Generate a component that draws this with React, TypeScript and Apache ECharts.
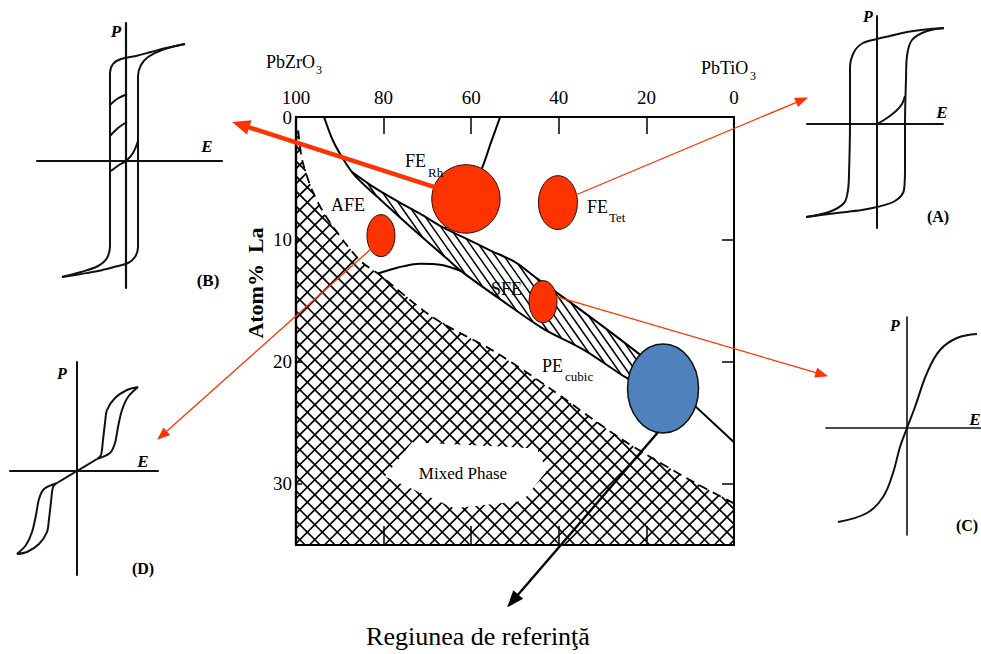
import React, { useEffect, useRef } from "react";
import * as echarts from "echarts";

// ---------------- Phase diagram data (x: % PbZrO3, y: atom % La) ----------------
const zrTickLabels = [100, 80, 60, 40, 20, 0];
const laTickLabels = [0, 10, 20, 30];
const laMax = 35;

// upper boundary of the mixed-phase (cross-hatched) field, dashed in the figure
const mixedPhaseEdge: [number, number][] = [
  [99.5, 1.1], [98.6, 3.5], [96.3, 6.0], [93.4, 8.0], [88.8, 10.3], [84.9, 11.9],
  [81.3, 12.8], [68.7, 16.4], [54.6, 19.2], [42.0, 22.2], [26.3, 26.2], [10.5, 29.6], [0, 31.6],
];
// AFE / FE boundary, continuing as the lower edge of the SFE band
const afeFeBoundary: [number, number][] = [
  [93.6, 0], [91.6, 1.9], [89.3, 3.4], [86.8, 4.7], [84.0, 5.7], [80.6, 6.8], [73.5, 9.1],
  [65.5, 11.6], [62.3, 12.6], [53.0, 15.0], [43.6, 17.3], [34.0, 19.1], [24.7, 21.3], [15.8, 23.1],
];
// upper edge of the SFE band and its continuation to the PbTiO3 side
const sfeUpperEdge: [number, number][] = [
  [87.2, 4.5], [82.0, 5.8], [76.3, 7.0], [71.7, 7.9], [67.1, 8.9], [61.4, 9.9], [55.7, 10.9],
  [49.8, 11.9], [45.0, 13.2], [37.2, 15.2], [26.3, 18.1], [19.2, 20.1], [12.3, 22.5],
];
const cubicBoundaryTail: [number, number][] = [[12.3, 22.5], [0, 26.6]];
// FE rhombohedral / tetragonal boundary
const mpbLine: [number, number][] = [[53.4, 0], [55.5, 2.1], [57.8, 4.4], [63.7, 8.4], [66.2, 9.1]];
// AFE / PE boundary
const afePeCurve: [number, number][] = [[81.3, 12.8], [76.7, 12.3], [71.7, 12.0], [66.7, 12.1], [62.3, 12.6]];
// clear area behind the "Mixed Phase" label
const mixedLabelClearing: [number, number][] = [
  [73.5, 26.6], [45.0, 27.1], [42.7, 28.9], [48.2, 31.4], [63.9, 32.0], [79.7, 29.4],
];

// marked compositions: [Zr, La, half-width Zr, half-height La]
const markedRegions: [number, number, number, number][] = [
  [61.2, 6.7, 7.8, 2.8],   // FE Rh
  [40.2, 7.0, 4.45, 2.2],  // FE Tet
  [80.6, 9.7, 3.2, 1.72],  // AFE
  [43.6, 15.1, 3.2, 1.72], // SFE
];
const referenceRegion: [number, number, number, number][] = [[16.2, 22.2, 8.1, 3.64]];

// arrows: [fromZr, fromLa, toZr, toLa]
const thickArrows: [number, number, number, number][] = [[67.8, 5.8, 114.6, 0.4]];
const thinArrows: [number, number, number, number][] = [
  [36.3, 6.4, -16.9, -1.6],
  [82.6, 10.7, 131.7, 26.4],
  [41.3, 14.6, -21.5, 21.2],
];
const blackArrows: [number, number, number, number][] = [[17.4, 25.8, 51.8, 40.1]];

// ---------------- P-E loops (arbitrary units) ----------------
const loopBDesc: [number, number][] = [
  [59, 117], [40, 113], [25, 109], [10, 105], [-5, 102], [-13, 97], [-16, 88], [-16, 60], [-16, 0],
  [-16, -60], [-16, -85], [-19, -97], [-28, -105], [-45, -111], [-64, -116],
];
const loopBAsc: [number, number][] = [
  [-64, -116], [-45, -113], [-28, -110], [-12, -106], [2, -102], [9, -96], [12, -86], [12, -60],
  [12, 0], [12, 60], [12, 85], [15, 96], [22, 104], [36, 111], [59, 117],
];
const loopBMinor1: [number, number][] = [[-16, 56], [-9, 62], [1, 67]];
const loopBMinor2: [number, number][] = [[-16, 25], [-8, 33], [1, 39]];
const loopBVirgin: [number, number][] = [[-15, -10], [-7, -4], [0, 0], [7, 8], [12, 20]];

const loopADesc: [number, number][] = [
  [69, 96], [53, 95], [30, 92], [13, 88], [0, 85], [-14, 81], [-23, 72], [-27, 56], [-27, 0],
  [-28, -50], [-29, -66], [-33, -79], [-48, -88], [-71, -93],
];
const loopAAsc: [number, number][] = [
  [-71, -93], [-40, -89], [-15, -86], [0, -83], [18, -77], [27, -66], [28, -45], [28, 0],
  [29, 45], [30, 68], [35, 84], [50, 93], [69, 96],
];
const loopAVirgin: [number, number][] = [[0, 0], [10, 6], [19, 13], [25, 20], [28, 28]];

const curveC: [number, number][] = [
  [-69, -94], [-40, -85], [-24, -69], [-14, -45], [-7, -19], [0, 0], [8, 21], [20, 55],
  [33, 78], [50, 90], [70, 94],
];

const loopDCenter: [number, number][] = [[-20, -12], [0, 0], [20, 12]];
const loopDUpper: [number, number][] = [
  [20, 12], [24, 16], [26, 31], [28, 48], [30, 61], [38, 73], [50, 81], [61, 84],
  [51, 74], [45, 61], [41, 44], [38, 28], [33, 18], [20, 12],
];
const loopDLower: [number, number][] = [
  [-20, -12], [-24, -16], [-26, -31], [-28, -48], [-30, -61], [-38, -73], [-50, -81], [-60, -83],
  [-51, -74], [-45, -61], [-41, -44], [-38, -28], [-33, -18], [-20, -12],
];

// ---------------- styling ----------------
const FONT = "Liberation Serif";
const RED = "#ff3300";
const BLUE = "#4f81bd";
const INK = "#111";

type Pt = number[];

function hatchLines(pts: Pt[], angleDeg: number, spacing: number): number[][] {
  const a = (angleDeg * Math.PI) / 180;
  const dx = Math.cos(a), dy = Math.sin(a);
  const nx = -dy, ny = dx;
  let smin = Infinity, smax = -Infinity;
  for (const p of pts) {
    const s = p[0] * nx + p[1] * ny;
    if (s < smin) smin = s;
    if (s > smax) smax = s;
  }
  const segs: number[][] = [];
  for (let s = Math.ceil(smin / spacing) * spacing; s <= smax; s += spacing) {
    const us: number[] = [];
    for (let i = 0; i < pts.length; i++) {
      const p = pts[i], q = pts[(i + 1) % pts.length];
      const sp = p[0] * nx + p[1] * ny - s;
      const sq = q[0] * nx + q[1] * ny - s;
      if ((sp < 0) !== (sq < 0)) {
        const t = sp / (sp - sq);
        const x = p[0] + t * (q[0] - p[0]);
        const y = p[1] + t * (q[1] - p[1]);
        us.push(x * dx + y * dy);
      }
    }
    us.sort((m, n) => m - n);
    for (let k = 0; k + 1 < us.length; k += 2) {
      segs.push([s * nx + us[k] * dx, s * ny + us[k] * dy, s * nx + us[k + 1] * dx, s * ny + us[k + 1] * dy]);
    }
  }
  return segs;
}

const mixedPolygon: Pt[] = [[100, 0.8], ...mixedPhaseEdge, [0, laMax], [100, laMax]];
const sfePolygon: Pt[] = [...sfeUpperEdge, ...afeFeBoundary.slice(3).reverse()];
const hatchSpecs = [
  { poly: mixedPolygon, angles: [45, 135], spacing: 10.6, width: 1.7 },
  { poly: sfePolygon, angles: [55], spacing: 7, width: 1.5 },
];

function arrowRenderer(color: string, width: number, headLen: number, headW: number) {
  return (_params: any, api: any) => {
    const p = api.coord([api.value(0), api.value(1)]);
    const q = api.coord([api.value(2), api.value(3)]);
    const dx = q[0] - p[0], dy = q[1] - p[1];
    const L = Math.hypot(dx, dy);
    const ux = dx / L, uy = dy / L;
    const bx = q[0] - ux * headLen, by = q[1] - uy * headLen;
    return {
      type: "group",
      children: [
        { type: "line", shape: { x1: p[0], y1: p[1], x2: bx + ux, y2: by + uy }, style: { stroke: color, lineWidth: width } },
        {
          type: "polygon",
          shape: { points: [[q[0], q[1]], [bx - (uy * headW) / 2, by + (ux * headW) / 2], [bx + (uy * headW) / 2, by - (ux * headW) / 2]] },
          style: { fill: color },
        },
      ],
    };
  };
}

function ellipseRenderer(fill: string, stroke: string, lw: number) {
  return (_params: any, api: any) => {
    const c = api.coord([api.value(0), api.value(1)]);
    const sz = api.size([api.value(2), api.value(3)]);
    return {
      type: "ellipse",
      shape: { cx: c[0], cy: c[1], rx: Math.abs(sz[0]), ry: Math.abs(sz[1]) },
      style: { fill, stroke, lineWidth: lw },
    };
  };
}

function txt(text: string, x: number, y: number, size: number, extra: any = {}) {
  return {
    type: "text",
    x,
    y,
    z: 100,
    ...(extra.rotation ? { rotation: extra.rotation } : {}),
    style: {
      text,
      fill: "#000",
      fontFamily: FONT,
      fontSize: size,
      fontWeight: extra.weight || "normal",
      fontStyle: extra.style || "normal",
      align: extra.align || "center",
      verticalAlign: "middle",
    },
  };
}

function buildOption(): any {
  const mainLine = { color: "#000", width: 2 };
  const panels = [
    { grid: { left: 37, top: 23, width: 185, height: 265 }, x: [-89, 96], y: [-127, 138], lw: 2.2 },
    { grid: { left: 807, top: 16, width: 136, height: 212 }, x: [-70, 66], y: [-104, 108], lw: 2 },
    { grid: { left: 826, top: 317, width: 155, height: 218 }, x: [-81, 74], y: [-107, 111], lw: 1.6 },
    { grid: { left: 10, top: 362, width: 148, height: 213 }, x: [-67, 81], y: [-104, 109], lw: 2 },
  ];

  const grids: any[] = [
    { left: 296, top: 117, width: 438, height: 428, outerBoundsMode: "none" },
    ...panels.map((p) => ({ ...p.grid, outerBoundsMode: "none" })),
  ];

  const labelStyle = { show: true, color: "#000", fontFamily: FONT, fontSize: 19 };
  const xAxes: any[] = [
    {
      gridIndex: 0, type: "value", position: "top", inverse: true,
      min: zrTickLabels[zrTickLabels.length - 1], max: zrTickLabels[0], interval: 20,
      axisLine: { show: true, onZero: false, lineStyle: { color: "#000", width: 2 } },
      axisTick: { show: true, inside: true, length: 17, lineStyle: { color: "#000", width: 1.5 } },
      axisLabel: { ...labelStyle, margin: 10 },
      splitLine: { show: false },
    },
    {
      gridIndex: 0, type: "value", position: "bottom", inverse: true, min: 0, max: 100, interval: 20,
      axisLine: { show: true, onZero: false, lineStyle: { color: "#000", width: 2 } },
      axisTick: { show: true, inside: true, length: 19, lineStyle: { color: "#000", width: 1.5 } },
      axisLabel: { show: false },
      splitLine: { show: false },
    },
  ];
  const yAxes: any[] = [
    {
      gridIndex: 0, type: "value", position: "left", inverse: true,
      min: laTickLabels[0], max: laMax, interval: 10,
      axisLine: { show: true, onZero: false, lineStyle: { color: "#000", width: 2.4 } },
      axisTick: { show: true, inside: true, length: 6, lineStyle: { color: "#000", width: 1.5 } },
      axisLabel: { ...labelStyle, margin: 4, showMaxLabel: false },
      splitLine: { show: false },
    },
    {
      gridIndex: 0, type: "value", position: "right", inverse: true, min: 0, max: laMax, interval: 10,
      axisLine: { show: true, onZero: false, lineStyle: { color: "#000", width: 2 } },
      axisTick: { show: true, inside: true, length: 12, lineStyle: { color: "#000", width: 1.5 } },
      axisLabel: { show: false },
      splitLine: { show: false },
    },
  ];
  panels.forEach((p, i) => {
    const common = {
      gridIndex: i + 1, type: "value",
      axisLine: { show: true, onZero: true, lineStyle: { color: INK, width: p.lw } },
      axisTick: { show: false }, axisLabel: { show: false }, splitLine: { show: false },
    };
    xAxes.push({ ...common, min: p.x[0], max: p.x[1] });
    yAxes.push({ ...common, min: p.y[0], max: p.y[1] });
  });

  const series: any[] = [];

  series.push({
    type: "custom", xAxisIndex: 0, yAxisIndex: 0, z: 1, silent: true,
    data: hatchSpecs.map((_, i) => [i, 0]),
    renderItem: (_params: any, api: any) => {
      const spec = hatchSpecs[api.value(0)];
      const pts = spec.poly.map((p) => api.coord(p));
      const children: any[] = [];
      for (const ang of spec.angles) {
        for (const s of hatchLines(pts, ang, spec.spacing)) {
          children.push({ type: "line", shape: { x1: s[0], y1: s[1], x2: s[2], y2: s[3] }, style: { stroke: "#000", lineWidth: spec.width } });
        }
      }
      return { type: "group", children };
    },
  });
  series.push({
    type: "custom", xAxisIndex: 0, yAxisIndex: 0, z: 2, silent: true,
    data: [[0, 0]],
    renderItem: (_params: any, api: any) => ({
      type: "polygon",
      shape: { points: mixedLabelClearing.map((p) => api.coord(p)) },
      style: { fill: "#fff" },
    }),
  });

  const lineSeries = (data: [number, number][], extra: any = {}) => ({
    type: "line", xAxisIndex: 0, yAxisIndex: 0, data, symbol: "none", smooth: 0.3,
    lineStyle: { ...mainLine, ...(extra.lineStyle || {}) }, z: 3, silent: true, clip: false,
  });
  series.push(lineSeries(afeFeBoundary));
  series.push(lineSeries(sfeUpperEdge));
  series.push(lineSeries(cubicBoundaryTail));
  series.push(lineSeries(mpbLine));
  series.push(lineSeries(afePeCurve));
  series.push(lineSeries(mixedPhaseEdge, { lineStyle: { type: [9, 6], width: 1.8 } }));

  series.push({
    type: "custom", xAxisIndex: 0, yAxisIndex: 0, z: 5, silent: true,
    data: markedRegions, renderItem: ellipseRenderer(RED, "#2a0a00", 1),
  });
  series.push({
    type: "custom", xAxisIndex: 0, yAxisIndex: 0, z: 5, silent: true,
    data: referenceRegion, renderItem: ellipseRenderer(BLUE, INK, 1.5),
  });
  series.push({
    type: "custom", xAxisIndex: 0, yAxisIndex: 0, z: 6, silent: true,
    data: thickArrows, renderItem: arrowRenderer(RED, 4.5, 18, 15),
  });
  series.push({
    type: "custom", xAxisIndex: 0, yAxisIndex: 0, z: 6, silent: true,
    data: thinArrows, renderItem: arrowRenderer(RED, 1.3, 13, 10),
  });
  series.push({
    type: "custom", xAxisIndex: 0, yAxisIndex: 0, z: 6, silent: true,
    data: blackArrows, renderItem: arrowRenderer("#000", 2.4, 17, 13),
  });

  const loopSeries = (panel: number, data: [number, number][], smooth = 0.35) => ({
    type: "line", xAxisIndex: panel + 2, yAxisIndex: panel + 2, data, symbol: "none", smooth,
    lineStyle: { color: INK, width: 2 }, z: 3, silent: true, clip: false,
  });
  series.push(loopSeries(0, loopBDesc), loopSeries(0, loopBAsc), loopSeries(0, loopBMinor1),
    loopSeries(0, loopBMinor2), loopSeries(0, loopBVirgin));
  series.push(loopSeries(1, loopADesc), loopSeries(1, loopAAsc), loopSeries(1, loopAVirgin));
  series.push(loopSeries(2, curveC, 0.4));
  series.push(loopSeries(3, loopDCenter), loopSeries(3, loopDUpper, 0.3), loopSeries(3, loopDLower, 0.3));

  const bi = { weight: "bold", style: "italic" };
  const b = { weight: "bold" };
  const graphic = [
    txt("PbZrO", 266, 62, 18, { align: "left" }),
    txt("3", 316, 70, 12, { align: "left" }),
    txt("PbTiO", 701, 68, 18, { align: "left" }),
    txt("3", 750, 76, 12, { align: "left" }),
    txt("Atom%  La", 255, 283, 22, { weight: "bold", rotation: Math.PI / 2 }),
    txt("FE", 405, 161, 18, { align: "left" }),
    txt("Rh", 428, 172, 13, { align: "left" }),
    txt("FE", 587, 207, 18, { align: "left" }),
    txt("Tet", 609, 217, 13, { align: "left" }),
    txt("AFE", 331, 205, 18, { align: "left" }),
    txt("SFE", 491, 289, 18, { align: "left" }),
    txt("PE", 542, 366, 18, { align: "left" }),
    txt("cubic", 565, 376, 13, { align: "left" }),
    txt("Mixed Phase", 463, 473, 17),
    txt("Regiunea de referinţă", 478, 636, 26),
    txt("P", 116, 31, 17, bi),
    txt("E", 207, 146, 17, bi),
    txt("(B)", 208, 280, 17, b),
    txt("P", 868, 16, 16, bi),
    txt("E", 942, 112, 17, bi),
    txt("(A)", 938, 216, 16, b),
    txt("P", 895, 325, 16, bi),
    txt("E", 975, 419, 17, bi),
    txt("(C)", 967, 525, 16, b),
    txt("P", 62, 373, 16, bi),
    txt("E", 143, 461, 17, bi),
    txt("(D)", 143, 568, 16, b),
  ];

  return {
    animation: false,
    backgroundColor: "#fff",
    textStyle: { fontFamily: FONT },
    grid: grids,
    xAxis: xAxes,
    yAxis: yAxes,
    series,
    graphic: { elements: graphic },
  };
}

export default function App() {
  const ref = useRef<HTMLDivElement>(null);
  useEffect(() => {
    if (!ref.current) return;
    const chart = echarts.init(ref.current, undefined, { renderer: "svg" });
    chart.setOption(buildOption());
    return () => chart.dispose();
  }, []);
  return (
    <div
      ref={ref}
      style={{ position: "fixed", left: 0, top: 0, width: 981, height: 654, background: "#fff" }}
    />
  );
}
